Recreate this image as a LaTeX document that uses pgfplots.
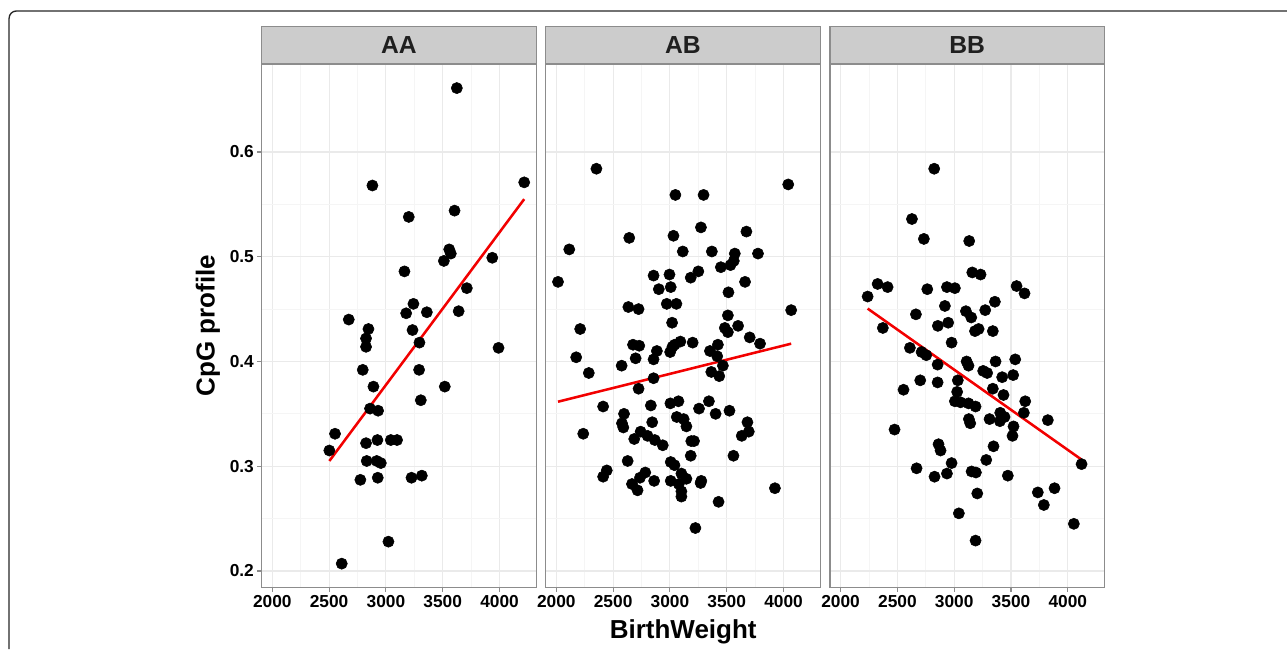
\documentclass[border=0pt]{standalone}
\usepackage{fontspec}
\setmainfont{Liberation Sans}
\usepackage{pgfplots}
\pgfplotsset{compat=1.18}

\definecolor{stripgray}{HTML}{CCCCCC}
\definecolor{framegray}{HTML}{8C8C8C}
\definecolor{majgrid}{HTML}{EAEAEA}
\definecolor{mingrid}{HTML}{F5F5F5}
\definecolor{fitred}{HTML}{F20000}

\pgfplotsset{
  facet/.style={
    scale only axis,
    width=205.8pt, height=392.8pt,
    anchor=north west,
    xmin=1907, xmax=4322,
    ymin=0.184, ymax=0.684,
    xtick={2000,2500,3000,3500,4000},
    ytick={0.2,0.3,0.4,0.5,0.6},
    minor x tick num=1, minor y tick num=1,
    minor tick length=0pt,
    major tick length=3.2pt,
    tick align=outside,
    tick pos=left,
    grid=both,
    major grid style={majgrid, line width=0.8pt},
    minor grid style={mingrid, line width=0.6pt},
    axis line style={framegray, line width=0.8pt},
    tick style={framegray, line width=0.8pt},
    tick label style={font=\fontsize{13}{15}\selectfont\bfseries, black},
    /pgf/number format/assume math mode=true,
    /pgf/number format/1000 sep={},
    yticklabel style={/pgf/number format/fixed, /pgf/number format/precision=1, inner sep=2.5pt},
    xticklabel style={inner sep=2.5pt},
    every axis title/.style={at={(0.5,1)}, anchor=south, fill=stripgray, draw=framegray,
      line width=0.8pt, minimum width=205.8pt, minimum height=27.75pt,
      inner sep=0pt, font=\fontsize{18.5}{20}\selectfont\bfseries, text=black!88},
    clip=true,
  },
  dots/.style={only marks, mark=*, mark size=4.2pt, mark options={fill=black, draw=black}},
  fit/.style={no marks, fitred, line width=1.9pt},
}

\begin{document}
\begin{tikzpicture}
\useasboundingbox (0,0) rectangle (965.25pt,486.75pt);
% outer frame
\draw[black!85, line width=1pt] (6.8pt,0pt) -- (6.8pt,473pt) arc[start angle=180, end angle=90, radius=5.5pt] -- (965.25pt,478.5pt);

% AA
\begin{axis}[facet, at={(196.3pt,438.75pt)}, title={AA}]
\addplot[dots] coordinates {
(3624,0.661) (2881,0.568) (4217,0.571) (3201,0.538) (3604,0.544)
(3557,0.507) (3571,0.503) (3510,0.496) (3936,0.499) (3163,0.486)
(3712,0.470) (2673,0.440) (3242,0.455) (3178,0.446) (3360,0.447)
(3640,0.448) (3234,0.430) (2846,0.431) (2825,0.422) (2825,0.414)
(3295,0.418) (3991,0.413) (2796,0.392) (2890,0.376) (3292,0.392)
(3518,0.376) (3307,0.363) (2860,0.355) (2931,0.353) (2552,0.331)
(2502,0.315) (2825,0.322) (2925,0.325) (3043,0.325) (3098,0.325)
(2831,0.305) (2919,0.305) (2955,0.303) (2775,0.287) (2928,0.289)
(3225,0.289) (3316,0.291) (3022,0.228) (2611,0.207)
};
\addplot[fit] coordinates {(2502,0.305) (4217,0.555)};
\end{axis}

% AB
\begin{axis}[facet, at={(409.3pt,438.75pt)}, title={AB}, yticklabels={}, y tick style={draw=none}]
\addplot[dots] coordinates {
(2353,0.584) (4041,0.569) (3048,0.559) (3296,0.559) (3273,0.528)
(3673,0.524) (2642,0.518) (3031,0.520) (2114,0.507) (3113,0.505)
(3369,0.505) (3571,0.503) (3775,0.503) (3562,0.496) (3533,0.492)
(3448,0.490) (3250,0.486) (3183,0.480) (2856,0.482) (2996,0.483)
(2015,0.476) (3661,0.476) (2902,0.469) (3007,0.471) (3515,0.466)
(2972,0.455) (3057,0.455) (2634,0.452) (2724,0.450) (4067,0.449)
(3510,0.444) (3019,0.437) (2210,0.431) (3483,0.432) (3600,0.434)
(3510,0.428) (3702,0.423) (3793,0.417) (2675,0.416) (2730,0.415)
(2885,0.410) (3002,0.409) (3042,0.416) (3092,0.419) (3022,0.414)
(3200,0.418) (3422,0.416) (3352,0.410) (3416,0.405) (3466,0.396)
(3364,0.390) (3434,0.386) (2175,0.404) (2698,0.403) (2856,0.402)
(2575,0.396) (2286,0.389) (2856,0.384) (2724,0.374) (2412,0.357)
(2596,0.350) (2832,0.358) (3004,0.360) (3075,0.362) (3256,0.355)
(3343,0.362) (3402,0.350) (3524,0.353) (2578,0.341) (2590,0.337)
(2844,0.342) (3060,0.347) (3121,0.345) (3145,0.338) (3682,0.342)
(3694,0.333) (3632,0.329) (2237,0.331) (2742,0.333) (2686,0.326)
(2803,0.329) (2867,0.325) (2937,0.320) (3188,0.324) (3212,0.324)
(3183,0.310) (3559,0.310) (2628,0.305) (3007,0.304) (3040,0.301)
(2412,0.290) (2444,0.296) (2666,0.283) (2715,0.277) (2736,0.289)
(2783,0.294) (2861,0.286) (3007,0.286) (3101,0.293) (3145,0.288)
(3078,0.283) (3101,0.276) (3101,0.271) (3276,0.286) (3270,0.284)
(3428,0.266) (3924,0.279) (3224,0.241)
};
\addplot[fit] coordinates {(2015,0.3616) (4067,0.417)};
\end{axis}

% BB
\begin{axis}[facet, at={(622.5pt,438.75pt)}, title={BB}, yticklabels={}, y tick style={draw=none}]
\addplot[dots] coordinates {
(2824,0.584) (2628,0.536) (2733,0.517) (3132,0.515) (3159,0.485)
(3232,0.483) (2326,0.474) (2414,0.471) (2238,0.462) (2763,0.469)
(2936,0.471) (3006,0.470) (3549,0.472) (3619,0.465) (3358,0.457)
(2918,0.453) (3103,0.448) (3273,0.449) (3150,0.442) (2663,0.445)
(2372,0.432) (2947,0.437) (2856,0.434) (3183,0.429) (3215,0.431)
(3340,0.429) (2977,0.418) (2610,0.413) (2713,0.409) (2754,0.406)
(2854,0.397) (3109,0.400) (3126,0.396) (3364,0.400) (3537,0.402)
(2701,0.382) (2854,0.380) (2554,0.373) (3032,0.382) (3255,0.391)
(3290,0.389) (3422,0.385) (3519,0.387) (3026,0.371) (3340,0.374)
(3434,0.368) (3006,0.362) (3056,0.361) (3126,0.360) (3188,0.357)
(3625,0.362) (3613,0.351) (3405,0.351) (3443,0.347) (3402,0.343)
(3311,0.345) (3129,0.345) (3141,0.341) (3824,0.344) (3522,0.338)
(3513,0.329) (2475,0.335) (2862,0.321) (2880,0.315) (3346,0.319)
(3282,0.306) (2977,0.303) (4121,0.302) (2669,0.298) (2827,0.290)
(2936,0.293) (3153,0.295) (3191,0.294) (3472,0.291) (3203,0.274)
(3736,0.275) (3883,0.279) (3789,0.263) (3041,0.255) (4053,0.245)
(3188,0.229)
};
\addplot[fit] coordinates {(2238,0.4505) (4121,0.3063)};
\end{axis}

\node[font=\fontsize{19.5}{22}\selectfont\bfseries, rotate=90] at (156pt,242.5pt) {CpG profile};
\node[font=\fontsize{19.5}{22}\selectfont\bfseries] at (512.4pt,12.5pt) {BirthWeight};
\end{tikzpicture}
\end{document}
